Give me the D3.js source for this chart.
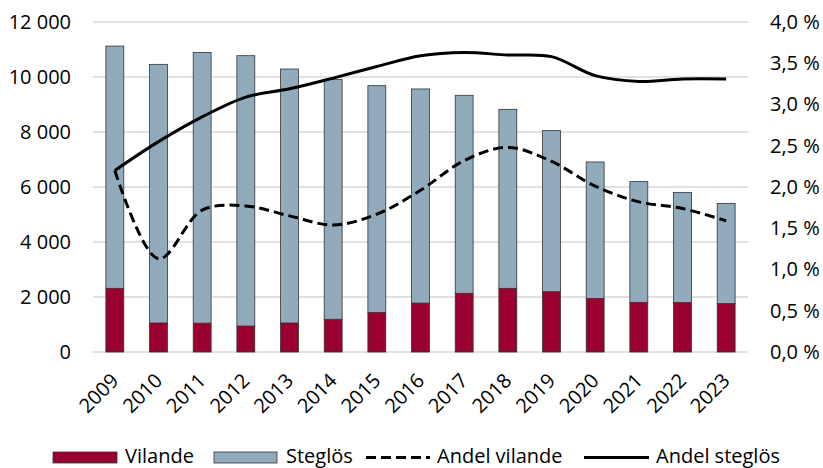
<!DOCTYPE html>
<html lang="sv">
<head>
    <meta charset="UTF-8">
    <title>Vilande och steglös</title>
    <style>
        body { margin: 0; background: #fff; }
        text { font-family: "Open Sans", sans-serif; fill: #000; }
    </style>
</head>
<body>
    <svg id="container" width="823" height="468"></svg>

<script src="https://cdn.jsdelivr.net/npm/d3@7"></script>
<script>
    let years = ["2009", "2010", "2011", "2012", "2013", "2014", "2015", "2016",
                 "2017", "2018", "2019", "2020", "2021", "2022", "2023"]
    let vilande = [2315, 1055, 1050, 945, 1055, 1190, 1440, 1780, 2135, 2315, 2195, 1950, 1805, 1800, 1760]
    let steglos = [8810, 9405, 9845, 9830, 9235, 8725, 8245, 7785, 7200, 6510, 5855, 4960, 4390, 4005, 3645]
    let andelVilande = [2.20, 1.13, 1.72, 1.77, 1.65, 1.54, 1.67, 1.96, 2.32, 2.48, 2.31, 2.01, 1.82, 1.74, 1.59]
    let andelSteglos = [2.20, 2.55, 2.85, 3.09, 3.19, 3.32, 3.46, 3.59, 3.63, 3.60, 3.58, 3.35, 3.28, 3.31, 3.31]
    let leftTicks = [0, 2000, 4000, 6000, 8000, 10000, 12000]
    let rightTicks = [0, 0.5, 1, 1.5, 2, 2.5, 3, 3.5, 4]

    let svg = d3.select("#container")
    let plotLeft = 93, plotRight = 748, plotTop = 22, plotBottom = 352
    let fontSize = 20

    let x = d3.scaleBand().domain(years).range([plotLeft, plotRight]).paddingInner(0.59).paddingOuter(0.295)
    let y = d3.scaleLinear().domain([0, 12000]).range([plotBottom, plotTop])
    let y2 = d3.scaleLinear().domain([0, 4]).range([plotBottom, plotTop])

    let fmtNum = d => d3.format(",")(d).replace(/,/g, " ")
    let fmtPct = d => d.toFixed(1).replace(".", ",") + " %"

    // gridlines
    svg.append("g").selectAll("line").data(leftTicks)
        .enter().append("line")
        .attr("x1", plotLeft).attr("x2", plotRight)
        .attr("y1", d => y(d)).attr("y2", d => y(d))
        .attr("stroke", "#d9d9d9").attr("stroke-width", 1.5)

    // left axis labels
    let leftAxis = d3.axisLeft(y).tickValues(leftTicks).tickFormat(fmtNum).tickSize(0).tickPadding(22)
    let gl = svg.append("g").attr("transform", `translate(${plotLeft},0)`).call(leftAxis)
    gl.select(".domain").remove()
    gl.selectAll("text").attr("font-size", fontSize).style("font-family", "'Open Sans', sans-serif")

    // right axis labels
    let rightAxis = d3.axisRight(y2).tickValues(rightTicks).tickFormat(fmtPct).tickSize(0).tickPadding(22)
    let gr = svg.append("g").attr("transform", `translate(${plotRight},0)`).call(rightAxis)
    gr.select(".domain").remove()
    gr.selectAll("text").attr("font-size", fontSize).style("font-family", "'Open Sans', sans-serif")

    // stacked bars
    let rows = years.map((yr, i) => ({ year: yr, Vilande: vilande[i], Steglos: steglos[i] }))
    let stack = d3.stack().keys(["Vilande", "Steglos"])(rows)
    let colors = { Vilande: "#990030", Steglos: "#91abbd" }

    svg.append("g").selectAll("g").data(stack)
        .enter().append("g")
        .attr("fill", d => colors[d.key])
        .selectAll("rect").data(d => d)
        .enter().append("rect")
        .attr("x", d => x(d.data.year))
        .attr("width", x.bandwidth())
        .attr("y", d => y(d[1]))
        .attr("height", d => y(d[0]) - y(d[1]))
        .attr("stroke", "#333")
        .attr("stroke-width", 0.8)

    // lines
    let cx = d => x(d) + x.bandwidth() / 2
    let line = d3.line()
        .x((d, i) => cx(years[i]))
        .y(d => y2(d))
        .curve(d3.curveCatmullRom)

    svg.append("path").datum(andelVilande)
        .attr("d", line)
        .attr("fill", "none").attr("stroke", "#000")
        .attr("stroke-width", 3).attr("stroke-dasharray", "10,5")

    svg.append("path").datum(andelSteglos)
        .attr("d", line)
        .attr("fill", "none").attr("stroke", "#000")
        .attr("stroke-width", 3)

    // x labels
    svg.append("g").selectAll("text").data(years)
        .enter().append("text")
        .attr("transform", d => `translate(${cx(d) + 5},${382}) rotate(-45)`)
        .attr("text-anchor", "end")
        .attr("font-size", fontSize)
        .text(d => d)

    // legend
    let legend = svg.append("g")
    legend.append("rect").attr("x", 53).attr("y", 452).attr("width", 64).attr("height", 11)
        .attr("fill", colors.Vilande).attr("stroke", "#333").attr("stroke-width", 0.8)
    legend.append("text").attr("x", 125).attr("y", 462.5).attr("font-size", fontSize).text("Vilande")
    legend.append("rect").attr("x", 214).attr("y", 452).attr("width", 63).attr("height", 11)
        .attr("fill", colors.Steglos).attr("stroke", "#333").attr("stroke-width", 0.8)
    legend.append("text").attr("x", 286).attr("y", 462.5).attr("font-size", fontSize).text("Steglös")
    legend.append("line").attr("x1", 366).attr("x2", 430).attr("y1", 457.5).attr("y2", 457.5)
        .attr("stroke", "#000").attr("stroke-width", 3).attr("stroke-dasharray", "10,5")
    legend.append("text").attr("x", 437).attr("y", 462.5).attr("font-size", fontSize).text("Andel vilande")
    legend.append("line").attr("x1", 584).attr("x2", 649).attr("y1", 457.5).attr("y2", 457.5)
        .attr("stroke", "#000").attr("stroke-width", 3)
    legend.append("text").attr("x", 656).attr("y", 462.5).attr("font-size", fontSize).text("Andel steglös")
</script>
</body>
</html>
